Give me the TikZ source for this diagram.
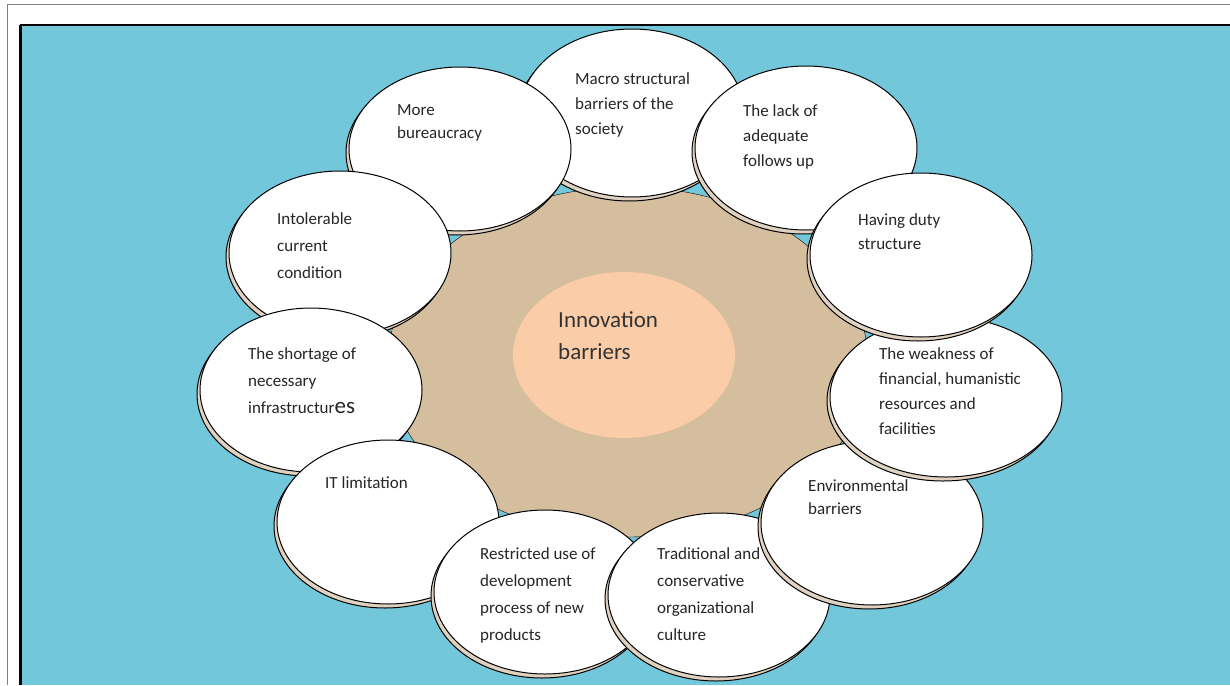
\documentclass[tikz,border=0pt]{standalone}
\usepackage{fontspec}
\setmainfont{Carlito}
\usetikzlibrary{shapes.geometric}

\definecolor{sky}{RGB}{114,199,218}
\definecolor{tan}{RGB}{213,190,158}
\definecolor{peach}{RGB}{250,204,168}
\definecolor{rimtan}{RGB}{224,210,192}

\tikzset{
  disk/.style={ellipse, draw=black, line width=1pt, fill=white,
               minimum width=222pt, minimum height=164pt, inner sep=0pt,
               preaction={draw=black, line width=1pt, fill=rimtan,
                          transform canvas={shift={(-3pt,-4pt)}}}},
  disktext/.style={anchor=north west, inner sep=0pt, align=left, text=black!85,
                   font=\fontsize{17}{25}\selectfont}
}

\begin{document}
\begin{tikzpicture}[x=1pt,y=-1pt]
  \useasboundingbox (0,0) rectangle (1230,685);
  \fill[white] (0,0) rectangle (1230,685);
  \draw[gray, line width=1pt] (7,685) -- (7,5) -- (1230,5);

  % blue panel
  \fill[sky] (20,25) rectangle (1230,685);
  \draw[black, line width=1.5pt] (20,25) -- (1230,25);
  \draw[black, line width=3pt] (20,25) -- (20,685);

  % centre
  \node[ellipse, draw=black, fill=tan, minimum width=480pt, minimum height=350pt] (core) at (628,362) {};
  \node[ellipse, fill=peach, minimum width=222pt, minimum height=166pt] (hub) at (624,355) {};
  \node[anchor=north west, inner sep=0pt, align=left, text=black!80,
        font=\fontsize{23}{32}\selectfont] (hub-t) at (558,311) {Innovation\\barriers};

  % barriers round the centre
  \node[disk, minimum width=224pt, minimum height=168pt] (macro) at (632,113) {};
  \node[disktext] (macro-t) at (575,72) {Macro structural\\barriers of the\\society};

  \node[disk] (lack) at (806,148) {};
  \node[disktext] (lack-t) at (743,104) {The lack of\\adequate\\follows up};

  \node[disk] (more) at (460,149) {};
  \node[disktext, font=\fontsize{17}{23}\selectfont] (more-t) at (397,104) {More\\bureaucracy};

  \node[disk] (intol) at (340,253) {};
  \node[disktext, font=\fontsize{17}{27}\selectfont] (intol-t) at (277,212) {Intolerable\\current\\condition};

  \node[disk] (short) at (311,390) {};
  \node[disktext, font=\fontsize{17}{27}\selectfont] (short-t) at (248,347)
       {The shortage of\\necessary\\infrastructur{\fontsize{23}{27}\selectfont es}};

  \node[disk] (itlim) at (388,522) {};
  \node[disktext] (itlim-t) at (325,476) {IT limitation};

  \node[disk] (restr) at (545,592) {};
  \node[disktext, font=\fontsize{17}{27}\selectfont] (restr-t) at (480,547)
       {Restricted use of\\development\\process of new\\products};

  \node[disk] (trad) at (719,595) {};
  \node[disktext, font=\fontsize{17}{27}\selectfont] (trad-t) at (657,547)
       {Traditional and\\conservative\\organizational\\culture};

  \node[disk] (envir) at (872,523) {};
  \node[disktext, font=\fontsize{17}{23}\selectfont] (envir-t) at (808,479) {Environmental\\barriers};

  \node[disk, minimum width=232pt, minimum height=160pt] (weak) at (946,397) {};
  \node[disktext] (weak-t) at (879,347) {The weakness of\\financial, humanistic\\resources and\\facilities};

  \node[disk] (duty) at (921,255) {};
  \node[disktext, font=\fontsize{17}{24}\selectfont] (duty-t) at (858,213) {Having duty\\structure};
\end{tikzpicture}
\end{document}
